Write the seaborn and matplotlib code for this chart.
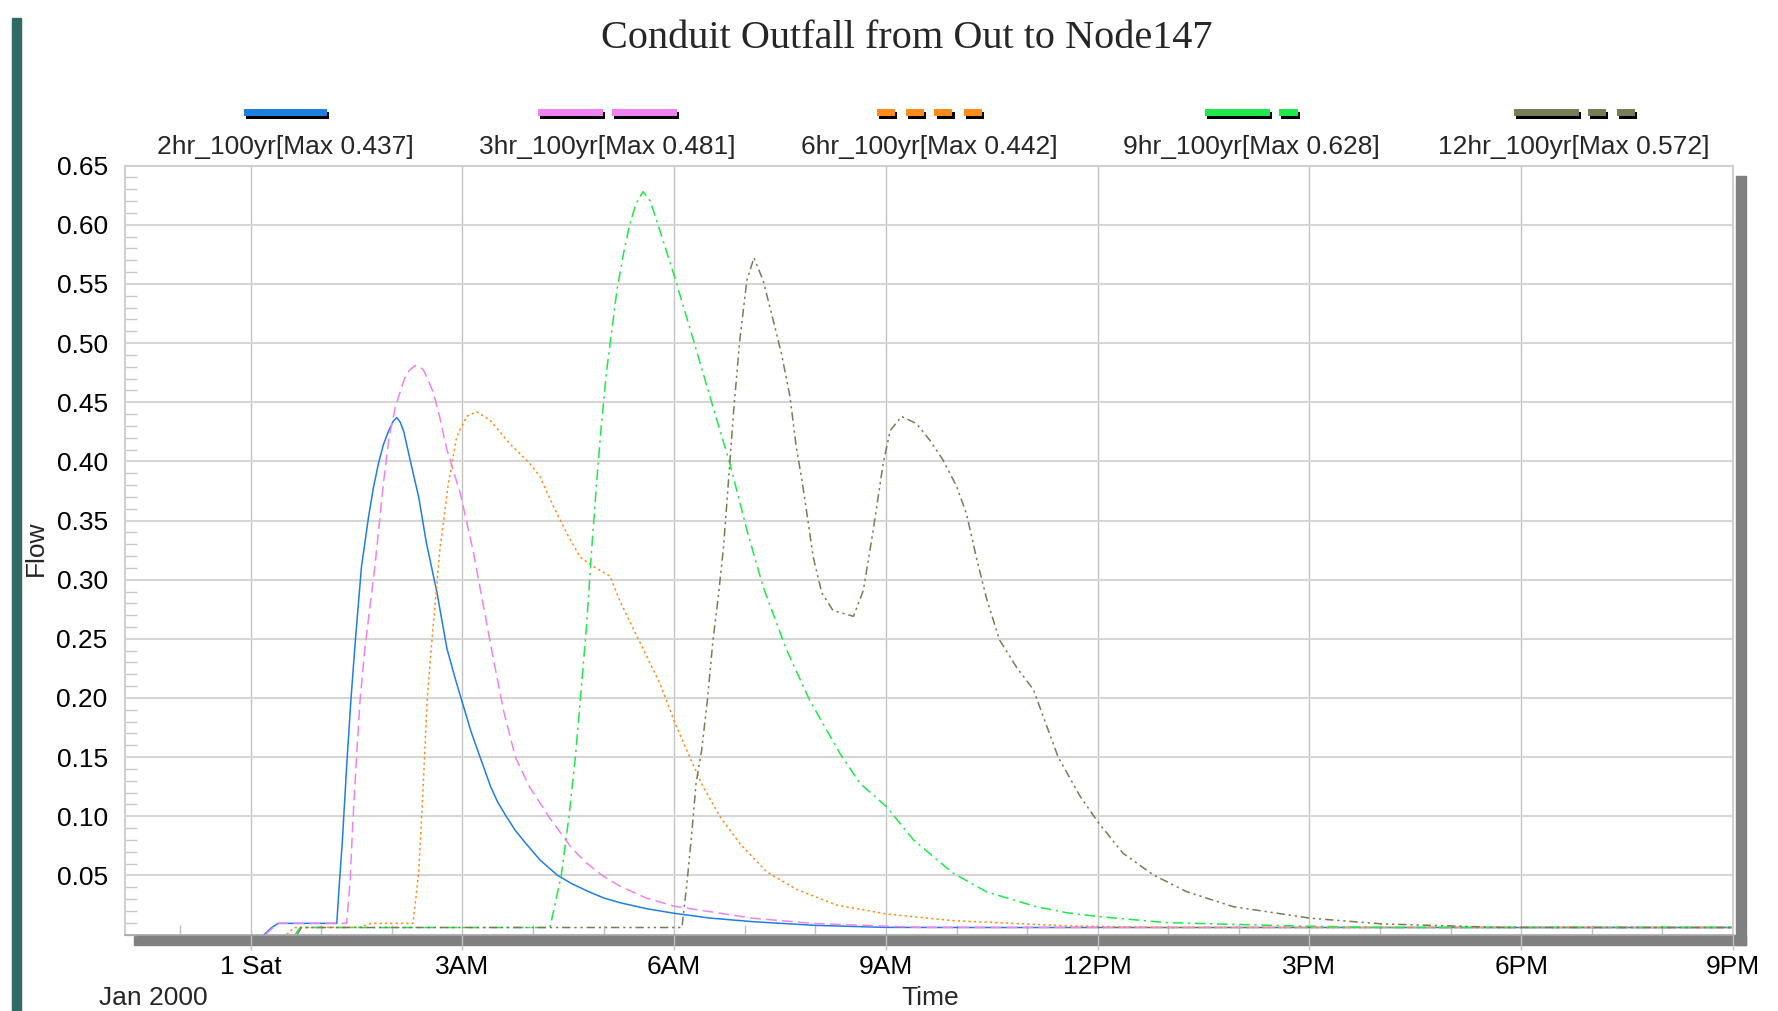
import numpy as np
import pandas as pd
import matplotlib.pyplot as plt
import seaborn as sns
from matplotlib.patches import Rectangle
from matplotlib.ticker import MultipleLocator

# time in hours after midnight, 1 Jan 2000; flow
t_2hr = [0.19, 0.30, 0.39, 1.22, 1.26, 1.30, 1.36, 1.42, 1.48, 1.57, 1.67, 1.74, 1.81, 1.88, 1.95, 2.02,
         2.07, 2.12, 2.17, 2.26, 2.38, 2.49, 2.64, 2.78, 2.90, 3.00, 3.12, 3.25, 3.40, 3.50, 3.62,
         3.75, 3.90, 4.10, 4.35, 4.55, 4.80, 5.00, 5.23, 5.60, 6.00, 6.50, 7.12, 8.00, 9.00, 10.5, 21.0]
q_2hr = [0.0, 0.006, 0.0095, 0.0095, 0.046, 0.080, 0.142, 0.198, 0.246, 0.311, 0.353, 0.378, 0.398, 0.414, 0.425, 0.434,
         0.437, 0.433, 0.425, 0.401, 0.370, 0.331, 0.289, 0.242, 0.216, 0.196, 0.172, 0.150, 0.125, 0.112, 0.100,
         0.088, 0.077, 0.063, 0.050, 0.043, 0.036, 0.031, 0.027, 0.022, 0.018, 0.014, 0.0109, 0.0078, 0.0061, 0.006, 0.006]

t_3hr = [0.21, 0.30, 0.40, 1.36, 1.41, 1.44, 1.50, 1.55, 1.62, 1.76, 1.88, 1.96, 2.05, 2.18, 2.25, 2.33,
         2.40, 2.45, 2.52, 2.59, 2.68, 2.78, 2.97, 3.15, 3.41, 3.58, 3.75, 3.95, 4.22, 4.55, 4.75, 4.98,
         5.23, 5.60, 6.00, 7.12, 8.00, 9.48, 21.0]
q_3hr = [0.0, 0.005, 0.0095, 0.0095, 0.046, 0.086, 0.150, 0.198, 0.243, 0.311, 0.381, 0.420, 0.446, 0.470, 0.477, 0.481,
         0.480, 0.477, 0.468, 0.458, 0.437, 0.410, 0.373, 0.325, 0.242, 0.190, 0.150, 0.125, 0.100, 0.073, 0.061, 0.050,
         0.041, 0.031, 0.024, 0.0138, 0.0093, 0.0061, 0.006]

t_6hr = [0.51, 0.62, 1.55, 1.71, 2.30, 2.38, 2.44, 2.50, 2.56, 2.68, 2.80, 2.92, 3.06, 3.20, 3.39,
         3.67, 3.96, 4.10, 4.29, 4.48, 4.67, 4.86, 5.09, 5.23, 5.45, 5.80, 6.01, 6.22, 6.41, 6.65,
         6.93, 7.31, 7.74, 8.30, 9.01, 9.95, 11.6, 13.0, 21.0]
q_6hr = [0.0, 0.006, 0.0062, 0.0095, 0.0095, 0.052, 0.120, 0.198, 0.243, 0.325, 0.381, 0.421, 0.438, 0.442, 0.435,
         0.415, 0.398, 0.387, 0.362, 0.339, 0.319, 0.311, 0.303, 0.282, 0.255, 0.212, 0.179, 0.150, 0.125, 0.0997,
         0.077, 0.053, 0.038, 0.025, 0.0174, 0.0118, 0.0073, 0.006, 0.006]

t_9hr = [0.63, 0.70, 4.24, 4.31, 4.40, 4.51, 4.60, 4.67, 4.76, 4.83, 4.90, 4.96, 5.04, 5.19, 5.28,
         5.37, 5.46, 5.56, 5.66, 5.75, 5.99, 6.27, 6.55, 6.79, 7.03, 7.26, 7.59, 7.92, 8.35, 8.63,
         9.01, 9.39, 9.95, 10.43, 11.13, 11.56, 12.0, 12.98, 14.8, 16.0, 21.0]
q_9hr = [0.0, 0.006, 0.006, 0.025, 0.050, 0.100, 0.150, 0.198, 0.262, 0.325, 0.381, 0.425, 0.475, 0.545, 0.575,
         0.600, 0.618, 0.628, 0.620, 0.604, 0.559, 0.503, 0.446, 0.398, 0.342, 0.294, 0.241, 0.198, 0.153, 0.128,
         0.108, 0.080, 0.052, 0.036, 0.0236, 0.0185, 0.0153, 0.0101, 0.0073, 0.006, 0.006]

t_12hr = [0.66, 0.72, 6.11, 6.18, 6.25, 6.31, 6.39, 6.47, 6.55, 6.62, 6.70, 6.77, 6.84, 6.93, 7.03,
          7.13, 7.26, 7.40, 7.52, 7.64, 7.73, 7.81, 7.88, 7.97, 8.09, 8.25, 8.54, 8.68, 8.82, 8.96,
          9.06, 9.22, 9.43, 9.62, 9.81, 10.00, 10.14, 10.28, 10.43, 10.61, 10.85, 11.09, 11.23, 11.44,
          11.75, 12.0, 12.36, 12.79, 13.26, 13.92, 15.02, 16.04, 17.7, 21.0]
q_12hr = [0.0, 0.006, 0.006, 0.043, 0.086, 0.128, 0.156, 0.198, 0.249, 0.283, 0.328, 0.384, 0.441, 0.503, 0.553,
          0.572, 0.553, 0.520, 0.491, 0.455, 0.412, 0.384, 0.356, 0.319, 0.289, 0.274, 0.269, 0.291, 0.342, 0.398,
          0.426, 0.438, 0.432, 0.418, 0.401, 0.379, 0.356, 0.319, 0.283, 0.249, 0.226, 0.207, 0.184, 0.150,
          0.117, 0.0954, 0.0687, 0.0504, 0.0363, 0.0236, 0.0138, 0.0090, 0.0061, 0.006]

series_names = ["2hr_100yr", "3hr_100yr", "6hr_100yr", "9hr_100yr", "12hr_100yr"]
series_max = [0.437, 0.481, 0.442, 0.628, 0.572]
times = [t_2hr, t_3hr, t_6hr, t_9hr, t_12hr]
flows = [q_2hr, q_3hr, q_6hr, q_9hr, q_12hr]

x_ticks = [0, 3, 6, 9, 12, 15, 18, 21]
x_labels = ["1 Sat", "3AM", "6AM", "9AM", "12PM", "3PM", "6PM", "9PM"]
y_ticks = [0.05, 0.10, 0.15, 0.20, 0.25, 0.30, 0.35, 0.40, 0.45, 0.50, 0.55, 0.60, 0.65]
y_labels = ["0.05", "0.10", "0.15", "0.20", "0.25", "0.30", "0.35", "0.40", "0.45", "0.50", "0.55", "0.60", "0.65"]

colors = ["#1f7fe0", "#ee82ee", "#ff8c1a", "#1ee84a", "#7b7b55"]
line_dashes = ["", (7, 3.5), (1.5, 2), (7, 3, 1.5, 3), (5.5, 2.5, 1.5, 2.5, 1.5, 2.5)]
# legend swatch pieces (offset, length) in pixels
swatch_parts = [[(0, 83)],
                [(0, 65), (74, 65)],
                [(0, 18), (29, 18), (58, 18), (87, 18)],
                [(0, 65), (74, 19)],
                [(0, 65), (74, 18), (103, 18)]]
legend_cx = [285, 607, 929, 1251, 1574]

frames = []
for name, t, q in zip(series_names, times, flows):
    frames.append(pd.DataFrame({"Time": t, "Flow": q, "Series": name}))
df = pd.concat(frames, ignore_index=True)

sns.set_theme(style="white")
plt.rcParams["font.family"] = ["Liberation Sans", "DejaVu Sans"]

W, H = 1778, 1011
fig = plt.figure(figsize=(W / 100, H / 100), dpi=100)
ax = fig.add_axes([125 / W, 1 - 934.6 / H, (1733 - 125) / W, (934.6 - 165.6) / H])

sns.lineplot(data=df, x="Time", y="Flow", hue="Series", style="Series",
             palette=dict(zip(series_names, colors)),
             dashes=dict(zip(series_names, line_dashes)),
             estimator=None, sort=False, legend=False, lw=1.1, ax=ax)

ax.set_xlim(-1.78, 21.0)
ax.set_ylim(0, 0.65)
ax.set_xticks(x_ticks)
ax.set_xticklabels(x_labels)
ax.set_yticks(y_ticks)
ax.set_yticklabels(y_labels)
ax.xaxis.set_minor_locator(MultipleLocator(1))
ax.yaxis.set_minor_locator(MultipleLocator(0.01))

ax.grid(axis="y", which="major", color="#d6d6d6", lw=1.5)
ax.grid(axis="x", which="major", color="#c4c4c4", lw=1.0)
ax.set_axisbelow(True)

ax.tick_params(axis="y", which="major", direction="out", length=9.5, width=1.2,
               color="#d0d0d0", pad=3, labelsize=19, labelcolor="black")
ax.tick_params(axis="y", which="minor", direction="in", length=8.5, width=1,
               color="#c8c8c8", left=True)
ax.tick_params(axis="x", which="major", direction="out", length=11, width=1,
               color="#c0c0c0", pad=4, labelsize=19, labelcolor="black", bottom=True)
ax.tick_params(axis="x", which="minor", direction="in", length=7, width=1,
               color="#c0c0c0", bottom=True)

for side in ["top", "right", "left"]:
    ax.spines[side].set_color("#d0d0d0")
    ax.spines[side].set_linewidth(1.5)
ax.spines["bottom"].set_color("#a8a8a8")

ax.set_xlabel("Time", fontsize=19, va="center")
ax.xaxis.set_label_coords(0.5006, -0.0824)
ax.set_ylabel("Flow", fontsize=19, va="center")
ax.yaxis.set_label_coords(-0.0552, 0.503)
fig.text(153 / W, 1 - 998 / H, "Jan 2000", fontsize=19, ha="center", va="center")

fig.text(907 / W, 1 - 39 / H, "Conduit Outfall from Out to Node147",
         fontsize=29, ha="center", va="center", family=["Liberation Serif", "DejaVu Serif"])

# 3D-style shadow along the bottom and right of the plot frame
fig.add_artist(Rectangle((134 / W, 1 - 945 / H), (1746 - 134) / W, 10 / H,
                         transform=fig.transFigure, color="#808080", zorder=-1))
fig.add_artist(Rectangle((1736 / W, 1 - 945 / H), 10 / W, (945 - 176) / H,
                         transform=fig.transFigure, color="#808080", zorder=-1))
# window edge on the left of the screenshot
fig.add_artist(Rectangle((12 / W, 0), 9 / W, 1 - 18 / H,
                         transform=fig.transFigure, color="#2f6a65", zorder=-1))

# legend: swatch above each label
for name, mx, col, parts, cx in zip(series_names, series_max, colors, swatch_parts, legend_cx):
    total = parts[-1][0] + parts[-1][1]
    x0 = cx - total / 2
    for off, ln in parts:
        fig.add_artist(Rectangle(((x0 + off + 2.5) / W, 1 - 119 / H), ln / W, 6.7 / H,
                                 transform=fig.transFigure, color="black", lw=0))
        fig.add_artist(Rectangle(((x0 + off) / W, 1 - 116 / H), ln / W, 6.7 / H,
                                 transform=fig.transFigure, color=col, lw=0))
    fig.text(cx / W, 1 - 147 / H, f"{name}[Max {mx}]", fontsize=19, ha="center", va="center")

fig.savefig("out.png", dpi=100)
